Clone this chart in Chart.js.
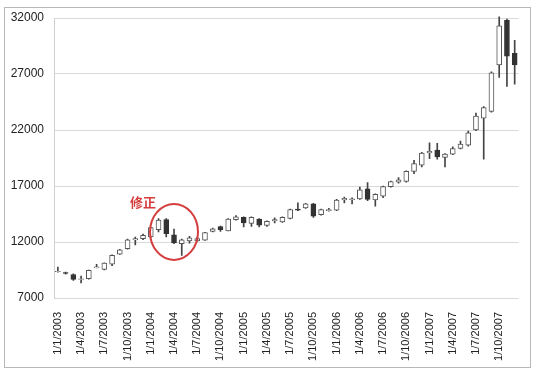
<!DOCTYPE html>
<html>
<head>
<meta charset="utf-8">
<script src="https://cdn.jsdelivr.net/npm/chart.js@4"></script>
<style>
  html, body { margin: 0; padding: 0; background: #fff; }
  #wrap { position: relative; width: 534px; height: 375px; }
  #frame { position: absolute; left: 4px; top: 7px; width: 527px; height: 361px; border: 1px solid #b8b8b8; box-sizing: border-box; }
  canvas { position: absolute; left: 0; top: 0; }
</style>
</head>
<body>
<div id="wrap">
  <div id="frame"></div>
  <canvas id="chart" width="534" height="375"></canvas>
</div>
<script>
// monthly candles, Jan 2003 - Dec 2007
const categories = [
  '1/1/2003','1/2/2003','1/3/2003','1/4/2003','1/5/2003','1/6/2003','1/7/2003','1/8/2003','1/9/2003','1/10/2003','1/11/2003','1/12/2003',
  '1/1/2004','1/2/2004','1/3/2004','1/4/2004','1/5/2004','1/6/2004','1/7/2004','1/8/2004','1/9/2004','1/10/2004','1/11/2004','1/12/2004',
  '1/1/2005','1/2/2005','1/3/2005','1/4/2005','1/5/2005','1/6/2005','1/7/2005','1/8/2005','1/9/2005','1/10/2005','1/11/2005','1/12/2005',
  '1/1/2006','1/2/2006','1/3/2006','1/4/2006','1/5/2006','1/6/2006','1/7/2006','1/8/2006','1/9/2006','1/10/2006','1/11/2006','1/12/2006',
  '1/1/2007','1/2/2007','1/3/2007','1/4/2007','1/5/2007','1/6/2007','1/7/2007','1/8/2007','1/9/2007','1/10/2007','1/11/2007','1/12/2007'
];

const openVals = [
  9350, 9280, 9100, 8650, 8720, 9700, 9550, 10020, 10920, 11400, 12180, 12300,
  12450, 13100, 14000, 12650, 11850, 12100, 12100, 12170, 12950, 13380, 13000, 14000,
  14200, 13650, 14050, 13480, 13880, 13800, 14100, 14950, 15050, 15400, 14450, 14800,
  14850, 15750, 15780, 15850, 16750, 15750, 16100, 16950, 17350, 17400, 18300, 18850,
  19950, 20200, 19550, 19850, 20350, 20650, 22000, 23050, 23650, 27800, 31800, 28850
];
const highVals = [
  9750, 9320, 9150, 8950, 9500, 10000, 10150, 10850, 11350, 12250, 12450, 12700,
  13300, 14100, 14100, 13150, 12250, 12500, 12450, 12870, 13250, 13420, 14100, 14350,
  14250, 14250, 14100, 13900, 14150, 14250, 14950, 15500, 15450, 15450, 14950, 15000,
  15800, 16000, 15950, 16900, 17300, 16300, 17000, 17450, 17750, 18350, 19300, 20000,
  20850, 20800, 19900, 20500, 21000, 21900, 23500, 24100, 27200, 32100, 31900, 30000
];
const lowVals = [
  9300, 9120, 8580, 8350, 8680, 9680, 9500, 9880, 10880, 11350, 11750, 12200,
  12400, 12900, 12450, 11850, 10800, 11900, 12050, 12150, 12900, 12950, 12980, 13950,
  13350, 13400, 13350, 13400, 13700, 13750, 14050, 14800, 15000, 14200, 14400, 14750,
  14800, 15500, 15400, 15800, 15700, 15200, 15950, 16900, 17250, 17350, 18100, 18700,
  19450, 19400, 18700, 19800, 20300, 20550, 21950, 19400, 23600, 26700, 25900, 26100
];
const closeVals = [
  9380, 9200, 8650, 8720, 9470, 9780, 10120, 10800, 11300, 12200, 12300, 12600,
  13280, 13950, 12750, 11920, 12200, 12380, 12300, 12850, 13180, 13100, 14050, 14250,
  13700, 14200, 13500, 13850, 14000, 14200, 14900, 14850, 15400, 14300, 14900, 14900,
  15750, 15900, 15860, 16650, 15800, 16250, 16950, 17400, 17550, 18300, 19000, 19950,
  20100, 19600, 19850, 20350, 20750, 21750, 23250, 24000, 27100, 31300, 28600, 27800
];

const yTicks = [7000, 12000, 17000, 22000, 27000, 32000];

// annotation
const noteText = '修正';
const noteIndex = 15;
const noteValue = 12900;

const wicks = lowVals.map((l, i) => [l, highVals[i]]);
const bodies = openVals.map((o, i) => [o, closeVals[i]]);
const bodyFill = openVals.map((o, i) => closeVals[i] < o ? '#333333' : '#ffffff');
const bodyEdge = openVals.map((o, i) => closeVals[i] < o ? '#333333' : '#555555');

const noteCircle = {
  id: 'noteCircle',
  afterDatasetsDraw(chart) {
    const { ctx, scales: { x, y } } = chart;
    const cx = x.getPixelForValue(noteIndex);
    const cy = y.getPixelForValue(noteValue);
    ctx.save();
    ctx.strokeStyle = '#d53e3e';
    ctx.lineWidth = 2;
    ctx.beginPath();
    ctx.ellipse(cx, cy, 24, 28, 0, 0, Math.PI * 2);
    ctx.stroke();
    ctx.fillStyle = '#d53e3e';
    ctx.font = 'bold 13px "Noto Sans CJK SC"';
    ctx.textAlign = 'center';
    ctx.textBaseline = 'middle';
    ctx.fillText(noteText, cx - 31, cy - 30);
    ctx.restore();
  }
};

new Chart(document.getElementById('chart'), {
  type: 'bar',
  data: {
    labels: categories,
    datasets: [
      {
        label: 'body',
        data: bodies,
        backgroundColor: bodyFill,
        borderColor: bodyEdge,
        borderWidth: 1,
        borderSkipped: false,
        barThickness: 5,
        grouped: false,
        order: 0,
        clip: 6
      },
      {
        label: 'wick',
        data: wicks,
        backgroundColor: '#444444',
        borderWidth: 0,
        barThickness: 1,
        grouped: false,
        order: 1,
        clip: 6
      }
    ]
  },
  options: {
    responsive: false,
    animation: false,
    layout: { padding: { top: 18, right: 14, left: 0, bottom: 0 } },
    plugins: { legend: { display: false }, tooltip: { enabled: false } },
    scales: {
      x: {
        grid: { display: false },
        border: { display: false },
        ticks: {
          autoSkip: false,
          minRotation: 90,
          maxRotation: 90,
          padding: 6,
          color: '#222',
          font: { family: 'Liberation Sans', size: 11 },
          callback: (v, i) => i % 3 === 0 ? categories[i] : ''
        },
        afterFit: s => { s.height = 77; }
      },
      y: {
        min: 7000,
        max: 32000,
        afterBuildTicks: s => { s.ticks = yTicks.map(v => ({ value: v })); },
        grid: { color: '#d9d9d9', drawTicks: false },
        border: { display: true, color: '#d0d0d0' },
        ticks: {
          padding: 10,
          color: '#222',
          font: { family: 'Liberation Sans', size: 12 },
          callback: v => String(v)
        },
        afterFit: s => { s.width = 54; }
      }
    }
  },
  plugins: [noteCircle]
});
</script>
</body>
</html>
